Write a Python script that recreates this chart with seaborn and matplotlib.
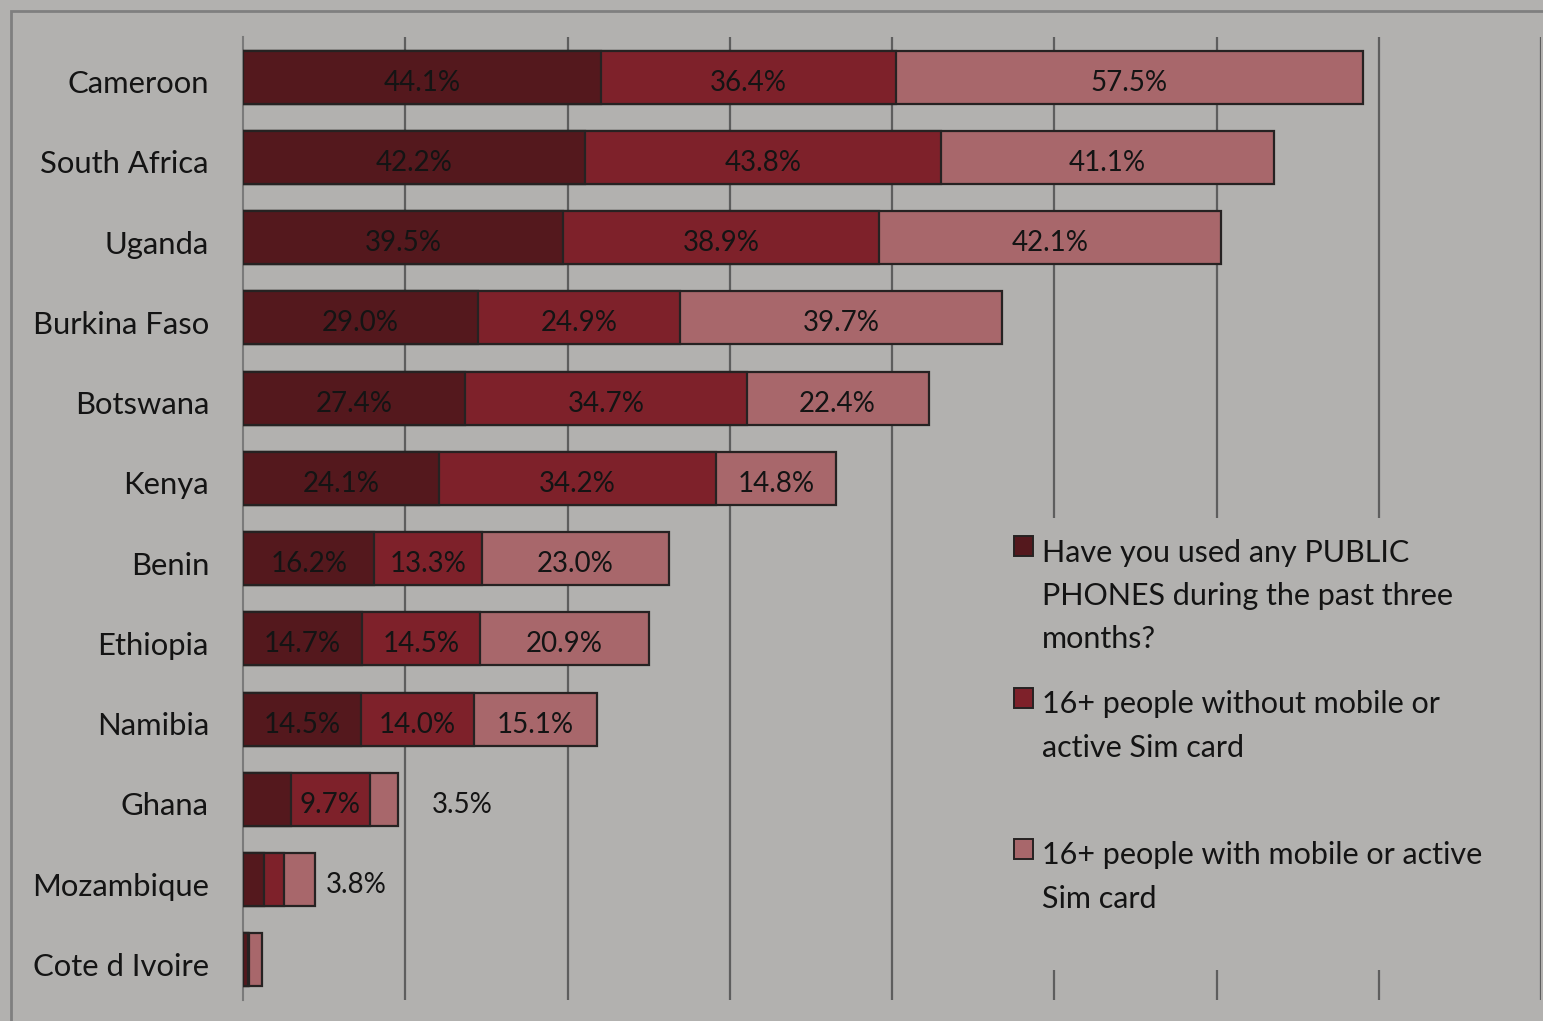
import matplotlib
matplotlib.use("Agg")
import matplotlib.pyplot as plt
from matplotlib.patches import Rectangle
import numpy as np
import pandas as pd
import seaborn as sns

# Countries, top to bottom
countries = ["Cameroon", "South Africa", "Uganda", "Burkina Faso", "Botswana",
             "Kenya", "Benin", "Ethiopia", "Namibia", "Ghana", "Mozambique",
             "Cote d Ivoire"]

# Share of people who used public phones in the past three months (%)
public_phones = [44.1, 42.2, 39.5, 29.0, 27.4, 24.1, 16.2, 14.7, 14.5, 5.9, 2.6, 0.6]
# 16+ people without mobile or active SIM card (%)
without_mobile = [36.4, 43.8, 38.9, 24.9, 34.7, 34.2, 13.3, 14.5, 14.0, 9.7, 2.5, 0.2]
# 16+ people with mobile or active SIM card (%)
with_mobile = [57.5, 41.1, 42.1, 39.7, 22.4, 14.8, 23.0, 20.9, 15.1, 3.5, 3.8, 1.6]

series_names = [
    ["Have you used any PUBLIC", "PHONES during the past three", "months?"],
    ["16+ people without mobile or", "active Sim card"],
    ["16+ people with mobile or active", "Sim card"],
]

# Which value labels are shown, and which sit outside the bar
show_inside = {
    0: [True] * 9 + [False, False, False],
    1: [True] * 10 + [False, False],
    2: [True] * 9 + [False, False, False],
}
outside_labels = {"Ghana": (2, 34), "Mozambique": (2, 11)}

BG = "#b2b1af"
C_DARK = "#54181d"
C_MID = "#7e212a"
C_LIGHT = "#a8676b"
EDGE = "#262222"
TEXT = "#141414"
PX = 0.72  # points per pixel at 100 dpi

W, H = 1543, 1021
sns.set_theme(style="white")
plt.rcParams["font.family"] = ["Lato", "DejaVu Sans"]

fig = plt.figure(figsize=(W / 100, H / 100), dpi=100, facecolor=BG)
ax = fig.add_axes([243 / W, 1 - 1000 / H, (1541 - 243) / W, (1000 - 37) / H])
ax.set_facecolor(BG)

df = pd.DataFrame({
    "country": countries,
    "public": public_phones,
    "without": without_mobile,
    "with": with_mobile,
})
df["cum1"] = df["public"]
df["cum2"] = df["public"] + df["without"]
df["cum3"] = df["cum2"] + df["with"]

# Stacked bars drawn as overlapping cumulative totals, longest first
for col, color in [("cum3", C_LIGHT), ("cum2", C_MID), ("cum1", C_DARK)]:
    sns.barplot(data=df, x=col, y="country", orient="h", color=color,
                saturation=1, width=0.66, edgecolor=EDGE, linewidth=1.6,
                errorbar=None, ax=ax, zorder=3)

ax.set_xlim(0, 160)
ax.set_ylim(len(countries) - 0.5, -0.5)
ax.set_xlabel("")
ax.set_ylabel("")

# Vertical gridlines every 20 units
ax.set_xticks(np.arange(20, 161, 20))
ax.xaxis.grid(True, color="#5e5e5e", linewidth=1.6)
ax.set_axisbelow(True)
ax.tick_params(axis="x", length=0, labelbottom=False)

# Category axis with boundary tick marks
ax.set_yticks(np.arange(len(countries)))
ax.set_yticklabels([])
ax.set_yticks(np.arange(-0.5, len(countries)), minor=True)
ax.tick_params(axis="y", which="major", length=0)
ax.tick_params(axis="y", which="minor", length=6, width=1.5, color="#7a7a7a")
for side in ["top", "right", "bottom"]:
    ax.spines[side].set_visible(False)
ax.spines["left"].set_color("#7a7a7a")
ax.spines["left"].set_linewidth(1.5)

# Country names, right-aligned left of the axis
for i, name in enumerate(countries):
    ax.annotate(name, xy=(0, i), xytext=(-34 * PX, -16 * PX),
                textcoords="offset points", ha="right", va="baseline",
                fontsize=22.3, color=TEXT, annotation_clip=False)

# Value labels
segments = [df["public"].to_numpy(), df["without"].to_numpy(), df["with"].to_numpy()]
starts = [np.zeros(len(df)), df["cum1"].to_numpy(), df["cum2"].to_numpy()]
totals = df["cum3"].to_numpy()
for s in range(3):
    for i in range(len(df)):
        val = segments[s][i]
        if show_inside[s][i]:
            ax.annotate(f"{val:.1f}%", xy=(starts[s][i] + val / 2, i),
                        xytext=(0, -13.5 * PX), textcoords="offset points",
                        ha="center", va="baseline", fontsize=20, color=TEXT,
                        zorder=5)
for name, (s, offset) in outside_labels.items():
    i = countries.index(name)
    val = segments[s][i]
    ax.annotate(f"{val:.1f}%", xy=(totals[i], i),
                xytext=(offset * PX, -13.5 * PX), textcoords="offset points",
                ha="left", va="baseline", fontsize=20, color=TEXT, zorder=5)

# Legend panel covering the gridlines behind it
fig.patches.append(Rectangle((1000 / W, 1 - 970 / H), 535 / W, 452 / H,
                             transform=fig.transFigure, facecolor=BG,
                             edgecolor="none", zorder=2))
marker_tops = [536, 688, 839]
baselines = [[562, 605, 648], [713, 757], [864, 908]]
colors = [C_DARK, C_MID, C_LIGHT]
for k in range(3):
    fig.patches.append(Rectangle((1014 / W, 1 - (marker_tops[k] + 20) / H),
                                 19 / W, 20 / H, transform=fig.transFigure,
                                 facecolor=colors[k], edgecolor=EDGE,
                                 linewidth=1.4, zorder=3))
    for line, by in zip(series_names[k], baselines[k]):
        fig.text(1042 / W, 1 - by / H, line, ha="left", va="baseline",
                 fontsize=22, color=TEXT, zorder=4)

# Outer chart frame
fig.patches.append(Rectangle((11 / W, -0.5), 2.0, 0.5 + 1 - 11 / H,
                             transform=fig.transFigure, facecolor="none",
                             edgecolor="#7f7f7f", linewidth=2, zorder=1))

fig.savefig("out.png", dpi=100, facecolor=BG)
